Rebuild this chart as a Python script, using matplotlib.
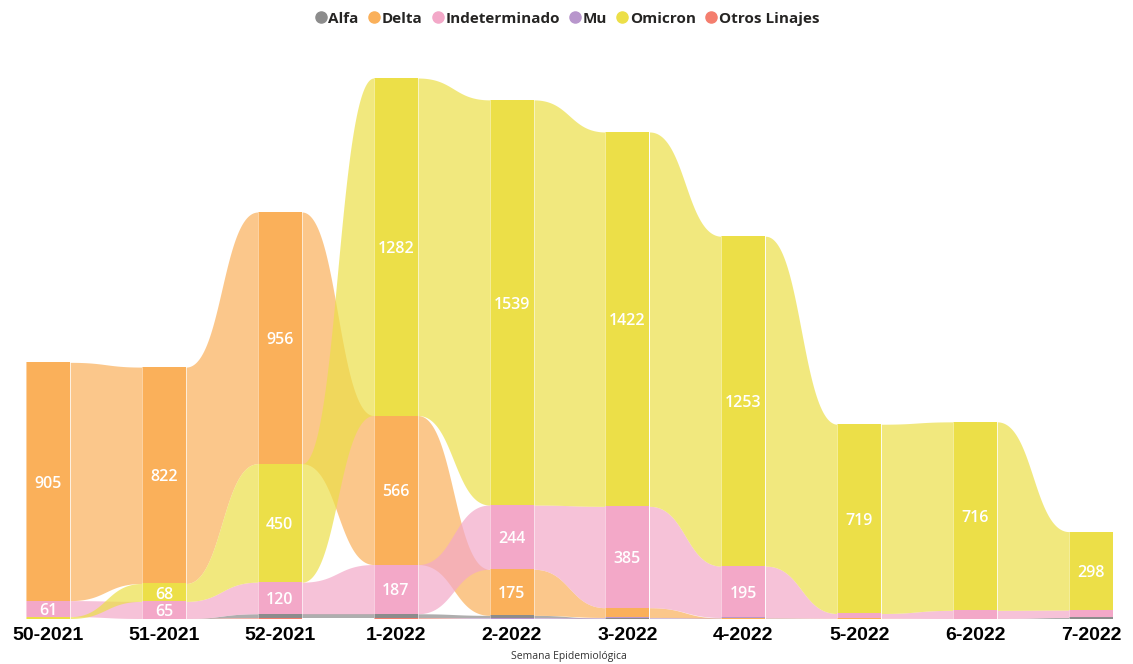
import numpy as np
import matplotlib
matplotlib.use("Agg")
import matplotlib.pyplot as plt
from matplotlib.lines import Line2D

weeks = ["50-2021", "51-2021", "52-2021", "1-2022", "2-2022", "3-2022",
         "4-2022", "5-2022", "6-2022", "7-2022"]
series_names = ["Alfa", "Delta", "Indeterminado", "Mu", "Omicron", "Otros Linajes"]
alfa = [0, 0, 15, 15, 9, 1, 0, 0, 0, 4]
delta = [905, 822, 956, 566, 175, 37, 2, 1, 0, 0]
indeterminado = [61, 65, 120, 187, 244, 385, 195, 18, 31, 28]
mu = [0, 0, 0, 0, 3, 3, 2, 0, 0, 0]
omicron = [7, 68, 450, 1282, 1539, 1422, 1253, 719, 716, 298]
otros = [0, 0, 3, 3, 0, 0, 0, 0, 0, 0]

colors = ["#8C8C8C", "#FAB05A", "#F3A8C8", "#B896CC", "#ECDF48", "#F47E6E"]
values = np.array([alfa, delta, indeterminado, mu, omicron, otros], dtype=float)

W, H = 1133, 664
fig = plt.figure(figsize=(W / 100, H / 100), dpi=100)
hw = 0.19
base_px = 618.5
top_px = 40
scale = 540.5 / 2053.0
ax = fig.add_axes([26 / W, (H - base_px) / H, (1113 - 26) / W, (base_px - top_px) / H])
ax.set_xlim(-hw, len(weeks) - 1 + hw)
ax.set_ylim(0, (base_px - top_px) / scale)

nS, nC = values.shape
bottoms = np.zeros_like(values)
# stack: largest on top, smallest at bottom
for j in range(nC):
    order = sorted(range(nS), key=lambda s: values[s, j])
    b = 0.0
    for s in order:
        bottoms[s, j] = b
        b += values[s, j]
tops = bottoms + values

# ribbons
t = np.linspace(0, 1, 120)
ease = 3 * t ** 2 - 2 * t ** 3
xe = 1.5 * t * (1 - t) + t ** 3
for j in range(nC - 1):
    xa, xb = j + hw, j + 1 - hw
    xs = xa + (xb - xa) * xe
    for s in range(nS):
        if values[s, j] == 0 and values[s, j + 1] == 0:
            continue
        yb = bottoms[s, j] + (bottoms[s, j + 1] - bottoms[s, j]) * ease
        yt = tops[s, j] + (tops[s, j + 1] - tops[s, j]) * ease
        ax.fill_between(xs, yb, yt, color=colors[s], alpha=0.7, linewidth=0, zorder=1)

# bars
for j in range(nC):
    for s in range(nS):
        v = values[s, j]
        if v <= 0:
            continue
        ax.bar(j, v, width=2 * hw, bottom=bottoms[s, j], color=colors[s],
               linewidth=0, zorder=2)
        if v >= 50:
            ax.annotate(f"{int(v)}", (j, bottoms[s, j] + v / 2), xytext=(0, -1.5),
                        textcoords="offset points", ha="center", va="center",
                        color="white", fontsize=11.5, fontweight="semibold",
                        family="Open Sans", zorder=4)
    tot = tops[:, j].max()
    for xe_ in (j - hw, j + hw):
        ax.plot([xe_, xe_], [0, tot], color="white", lw=0.7, alpha=0.45, zorder=3)

ax.set_xticks(range(nC))
ax.set_xticklabels(weeks, fontsize=14, fontweight="bold", family="Liberation Sans")
ax.tick_params(axis="x", length=0, pad=6)
ax.set_yticks([])
for sp in ax.spines.values():
    sp.set_visible(False)

fig.text(569 / W, 1 - 656 / H, "Semana Epidemiológica", ha="center", va="center",
         fontsize=7.5, family="Open Sans", color="#333333")

handles = [Line2D([], [], marker="o", linestyle="", color=c, markersize=8) for c in colors]
leg = fig.legend(handles, series_names, loc="upper center", bbox_to_anchor=(0.5, 1.003),
                 ncol=6, frameon=False, handletextpad=0.05, columnspacing=0.55,
                 handlelength=0.9, prop={"family": "Open Sans", "weight": "bold", "size": 11})
for txt in leg.get_texts():
    txt.set_color("#252423")

fig.savefig("out.png", dpi=100)
